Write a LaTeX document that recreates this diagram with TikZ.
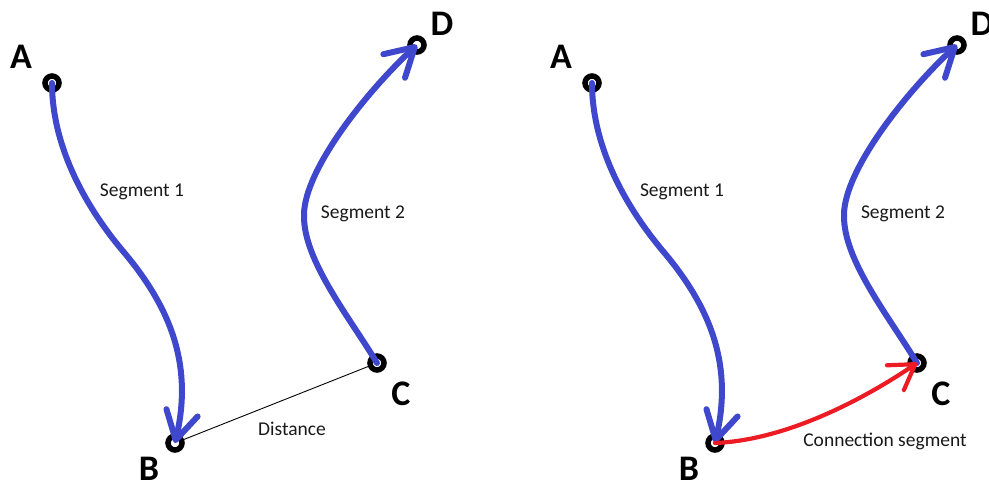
\documentclass[tikz,border=0pt]{standalone}
\usepackage{fontspec}
\setmainfont{Carlito}
\usetikzlibrary{arrows.meta}
\definecolor{pblue}{RGB}{63,72,204}
\definecolor{pred}{RGB}{237,28,36}
\tikzset{
  pt/.style={circle,draw=black,line width=5.5pt,minimum size=14pt,inner sep=0pt,fill=none},
  letter/.style={anchor=base,font=\fontsize{36}{36}\selectfont\bfseries,inner sep=0pt},
  lbl/.style={anchor=base,font=\fontsize{19.5}{20}\selectfont,inner sep=0pt,text=black!90},
  seg/.style={draw=pblue,line width=6pt,line cap=round,
    -{Straight Barb[length=28pt,width=32pt,round]}},
  conn/.style={draw=pred,line width=4.2pt,line cap=round,
    -{Straight Barb[length=24pt,width=30pt,round]}},
  dist/.style={draw=black,line width=0.9pt}
}
\begin{document}
\begin{tikzpicture}[x=1pt,y=-1pt]
\useasboundingbox (0,0) rectangle (989,482);
% ---------- left panel ----------
\node[pt] (A) at (52,83) {};
\node[pt] (B) at (175,443) {};
\node[pt] (C) at (377,363) {};
\node[pt] (D) at (417,45) {};
\node[letter] (lA) at (21,68) {A};
\node[letter] (lB) at (149,480) {B};
\node[letter] (lC) at (401,405) {C};
\node[letter] (lD) at (442,35) {D};
\node[lbl] (s1) at (142,196) {Segment 1};
\node[lbl] (s2) at (363,218) {Segment 2};
\node[lbl] (dl) at (292,435) {Distance};
\draw[seg] (A.center) .. controls (52,143) and (82,202) .. (122,250)
  .. controls (175,312) and (192,370) .. (B.center);
\draw[seg] (C.center) .. controls (350,318) and (303,260) .. (304,215)
  .. controls (304,170) and (367,91) .. (D.center);
\draw[dist] (B) -- (C);
% ---------- right panel ----------
\node[pt] (A2) at (592,83) {};
\node[pt] (B2) at (715,443) {};
\node[pt] (C2) at (917,363) {};
\node[pt] (D2) at (957,45) {};
\node[letter] (lA2) at (561,68) {A};
\node[letter] (lB2) at (689,480) {B};
\node[letter] (lC2) at (941,405) {C};
\node[letter] (lD2) at (982,35) {D};
\node[lbl] (s12) at (682,196) {Segment 1};
\node[lbl] (s22) at (903,218) {Segment 2};
\node[lbl] (cl) at (885,446) {Connection segment};
\draw[seg] (A2.center) .. controls (592,143) and (622,202) .. (662,250)
  .. controls (715,312) and (732,370) .. (B2.center);
\draw[seg] (C2.center) .. controls (890,318) and (843,260) .. (844,215)
  .. controls (844,170) and (907,91) .. (D2.center);
\draw[conn] (B2.center) .. controls (790,440) and (870,395) .. (C2.center);
\end{tikzpicture}
\end{document}
